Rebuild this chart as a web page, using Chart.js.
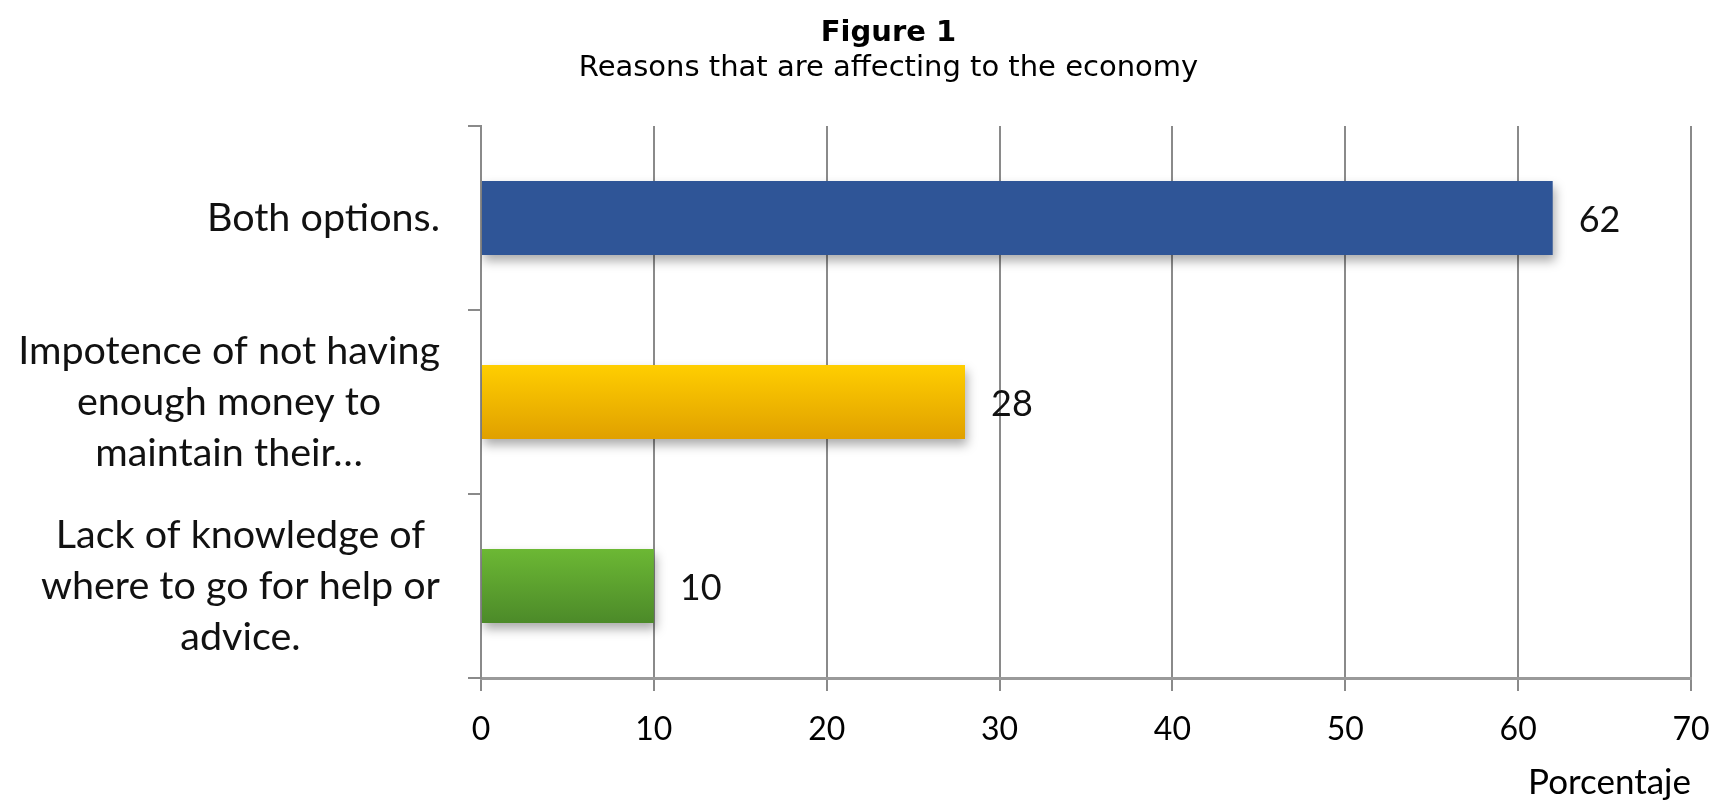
<!DOCTYPE html>
<html><head><meta charset="utf-8">
<script src="https://cdn.jsdelivr.net/npm/chart.js@4/dist/chart.umd.min.js"></script>
<style>html,body{margin:0;padding:0;background:#fff;}canvas{display:block}</style>
</head><body>
<canvas id="c" width="1712" height="804"></canvas>
<script>
const categories = [
  ["Both options."],
  ["Impotence of not having", "enough money to", "maintain their\u2026"],
  ["Lack of knowledge of", "where to go for help or", "advice."]
];
const values = [62, 28, 10];
const xMin = 0, xMax = 70, xStep = 10;
const barTop = ["#2F5597", "#FFCE00", "#6CB834"];
const barBottom = ["#2F5597", "#E0A000", "#4C8A29"];
const titleText = "Figure 1";
const subtitleText = "Reasons that are affecting to the economy";
const xTitle = "Porcentaje";

const LABEL_FONT = "Lato, 'Open Sans', sans-serif";
const GRID = "#8a8a8a";
const PAD_LEFT = 86;

const decorPlugin = {
  id: "decor",
  beforeDatasetsDraw(chart) {
    const ctx = chart.ctx;
    const meta = chart.getDatasetMeta(0);
    meta.data.forEach((el, i) => {
      const h = el.height;
      const g = ctx.createLinearGradient(0, el.y - h / 2, 0, el.y + h / 2);
      g.addColorStop(0, barTop[i]);
      g.addColorStop(1, barBottom[i]);
      el.options.backgroundColor = g;
    });
    ctx.save();
    ctx.shadowColor = "rgba(0,0,0,0.33)";
    ctx.shadowBlur = 10;
    ctx.shadowOffsetX = 2;
    ctx.shadowOffsetY = 6;
  },
  afterDatasetsDraw(chart) {
    chart.ctx.restore();
  },
  afterDraw(chart) {
    const ctx = chart.ctx;
    const ys = chart.scales.y;
    ctx.save();
    ctx.fillStyle = "#111";
    ctx.font = "39.5px " + LABEL_FONT;
    ctx.textAlign = "center";
    ctx.textBaseline = "middle";
    const right = ys.right - 41;
    const lh = 51;
    categories.forEach((lines, i) => {
      const cy = ys.getPixelForValue(i);
      const w = Math.max(...lines.map(l => ctx.measureText(l).width));
      const cx = right - w / 2;
      lines.forEach((l, j) => ctx.fillText(l, cx, cy + (j - (lines.length - 1) / 2) * lh));
    });
    // value labels
    ctx.textAlign = "left";
    ctx.font = "36px " + LABEL_FONT;
    const meta = chart.getDatasetMeta(0);
    meta.data.forEach((el, i) => {
      ctx.fillText(String(values[i]), el.x + 26, el.y + 2);
    });
    ctx.restore();
  }
};

new Chart(document.getElementById("c"), {
  type: "bar",
  data: {
    labels: categories.map(c => c.join(" ")),
    datasets: [{
      data: values,
      backgroundColor: barTop,
      borderWidth: 0,
      barPercentage: 0.402,
      categoryPercentage: 1
    }]
  },
  options: {
    indexAxis: "y",
    responsive: false,
    animation: false,
    devicePixelRatio: 1,
    layout: { padding: { left: PAD_LEFT, right: 21, top: 0, bottom: 0 } },
    plugins: {
      legend: { display: false },
      tooltip: { enabled: false },
      title: {
        display: true, text: titleText, color: "#000",
        font: { family: "'DejaVu Sans', Verdana, sans-serif", size: 29, weight: "bold" },
        padding: { top: 15.6, bottom: 0.2 }
      },
      subtitle: {
        display: true, text: subtitleText, color: "#000",
        font: { family: "'DejaVu Sans', Verdana, sans-serif", size: 29, weight: "normal" },
        padding: { top: 0, bottom: 40.6 }
      }
    },
    scales: {
      x: {
        min: xMin, max: xMax,
        ticks: { stepSize: xStep, color: "#000", padding: 19, font: { family: LABEL_FONT, size: 32 } },
        grid: { color: GRID, lineWidth: 2, tickLength: 13 },
        border: { color: "#9a9a9a", width: 3 },
        title: { display: true, text: xTitle, align: "end", color: "#000",
          font: { family: LABEL_FONT, size: 35 }, padding: { top: 0, bottom: 0 } },
        afterFit(s) { s.height = 126; s.paddingRight = 0; s.paddingLeft = 0; }
      },
      y: {
        ticks: { display: false },
        grid: { display: true, drawOnChartArea: false, offset: true, color: GRID, lineWidth: 2, tickLength: 13 },
        border: { color: GRID, width: 2 },
        afterFit(s) { s.width = 481 - PAD_LEFT; }
      }
    }
  },
  plugins: [decorPlugin]
});
</script>
</body></html>
